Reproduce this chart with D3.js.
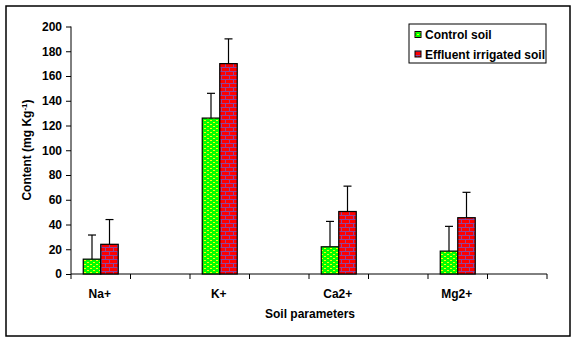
<!DOCTYPE html>
<html><head><meta charset="utf-8">
<script src="https://cdn.jsdelivr.net/npm/d3@7"></script>
<style>body{margin:0;background:#fff}svg{display:block;font-family:Arial,"Liberation Sans",sans-serif;font-weight:bold}</style>
</head><body><svg id="c" width="575" height="341"></svg>
<script>
const categories = ["Na+", "", "K+", "", "Ca2+", "", "Mg2+", ""];
const seriesNames = ["Control soil", "Effluent irrigated soil"];
const controlValues = [12, null, 126, null, 22, null, 18.5, null];
const controlErrors = [19.5, null, 20, null, 20.5, null, 20, null];
const effluentValues = [24, null, 170, null, 50.5, null, 45.5, null];
const effluentErrors = [20, null, 20, null, 20.5, null, 20.5, null];
const yTicks = [0, 20, 40, 60, 80, 100, 120, 140, 160, 180, 200];

const svg = d3.select("#c");
const defs = svg.append("defs");
// green dotted pattern
const pg = defs.append("pattern").attr("id","pg").attr("patternUnits","userSpaceOnUse").attr("width",6).attr("height",4);
pg.append("rect").attr("width",6).attr("height",4).attr("fill","#00ff00");
pg.append("rect").attr("x",0).attr("y",0).attr("width",2).attr("height",1).attr("fill","#ffff00");
pg.append("rect").attr("x",3).attr("y",2).attr("width",2).attr("height",1).attr("fill","#ffff00");
// red brick pattern
const pr = defs.append("pattern").attr("id","pr").attr("patternUnits","userSpaceOnUse").attr("width",8).attr("height",8);
pr.append("rect").attr("width",8).attr("height",8).attr("fill","#ff0000");
pr.append("rect").attr("x",0).attr("y",3).attr("width",8).attr("height",1).attr("fill","#6a5acd").attr("opacity",0.75);
pr.append("rect").attr("x",0).attr("y",7).attr("width",8).attr("height",1).attr("fill","#6a5acd").attr("opacity",0.75);
pr.append("rect").attr("x",1).attr("y",0).attr("width",1).attr("height",3).attr("fill","#6a5acd").attr("opacity",0.75);
pr.append("rect").attr("x",5).attr("y",4).attr("width",1).attr("height",3).attr("fill","#6a5acd").attr("opacity",0.75);

// outer frame
svg.append("rect").attr("x",6).attr("y",6).attr("width",564).attr("height",330).attr("fill","#fff").attr("stroke","#000").attr("stroke-width",1.5);

const x = d3.scaleBand().domain(d3.range(categories.length)).range([71,547]).paddingInner(0).paddingOuter(0);
const y = d3.scaleLinear().domain([0,200]).range([274,26.5]);
const barW = 17.5;

// y axis
const ya = svg.append("g").attr("transform","translate(71,0)")
  .call(d3.axisLeft(y).tickValues(yTicks).tickSize(5).tickPadding(4).tickFormat(d3.format("d")));
ya.select(".domain").attr("d","M0,"+y(200)+"V"+y(0)).attr("stroke","#000").attr("stroke-width",1);
ya.selectAll("text").attr("font-size",12).attr("font-weight","bold").attr("fill","#000").attr("font-family","Arial, Liberation Sans, sans-serif");

// x axis
const xa = svg.append("g").attr("transform","translate(0,274)");
xa.append("line").attr("x1",71).attr("x2",547).attr("y1",0).attr("y2",0).attr("stroke","#000");
const tickXs = d3.range(categories.length+1).map(i => i < categories.length ? x(i) : x(categories.length-1)+x.bandwidth());
xa.selectAll(".tk").data(tickXs).join("line").attr("x1",d=>d).attr("x2",d=>d).attr("y1",0).attr("y2",5).attr("stroke","#000");
xa.selectAll(".lb").data(categories).join("text")
  .attr("x",(d,i)=>x(i)+x.bandwidth()/2-1).attr("y",24).attr("text-anchor","middle")
  .attr("font-size",12).attr("fill","#000").text(d=>d);

// bars
function drawSeries(vals, errs, fill, offset){
  const g = svg.append("g");
  vals.forEach((v,i)=>{
    if(v==null) return;
    const cx = x(i)+x.bandwidth()/2 + offset;
    const bx = cx - barW/2;
    g.append("line").attr("x1",cx).attr("x2",cx).attr("y1",y(v)).attr("y2",y(v+errs[i])).attr("stroke","#000").attr("stroke-width",1.2);
    g.append("line").attr("x1",cx-4).attr("x2",cx+4).attr("y1",y(v+errs[i])).attr("y2",y(v+errs[i])).attr("stroke","#000").attr("stroke-width",1.2);
    g.append("rect").attr("x",bx).attr("y",y(v)).attr("width",barW).attr("height",y(0)-y(v))
      .attr("fill",fill).attr("stroke","#000").attr("stroke-width",1.2);
  });
}
drawSeries(controlValues, controlErrors, "url(#pg)", -barW/2);
drawSeries(effluentValues, effluentErrors, "url(#pr)", barW/2);

// axis titles
svg.append("text").attr("x",310).attr("y",318).attr("text-anchor","middle").attr("font-size",12).attr("fill","#000").text("Soil parameters");
const yt = svg.append("text").attr("transform","translate(31,150) rotate(-90)").attr("text-anchor","middle").attr("font-size",12).attr("fill","#000");
yt.append("tspan").text("Content (mg Kg");
yt.append("tspan").attr("font-size",8).attr("dy",-4).text("-1");
yt.append("tspan").attr("dy",4).text(")");

// legend
const lg = svg.append("g");
lg.append("rect").attr("x",409).attr("y",24).attr("width",137).attr("height",39).attr("fill","#fff").attr("stroke","#000").attr("stroke-width",1);
const fills = ["url(#pg)","url(#pr)"];
seriesNames.forEach((n,i)=>{
  const yy = 35 + i*19.5;
  lg.append("rect").attr("x",415).attr("y",yy-3.5).attr("width",6).attr("height",6).attr("fill",fills[i]).attr("stroke","#000");
  lg.append("text").attr("x",425).attr("y",yy+4).attr("font-size",12).attr("fill","#000").text(n);
});
</script></body></html>
